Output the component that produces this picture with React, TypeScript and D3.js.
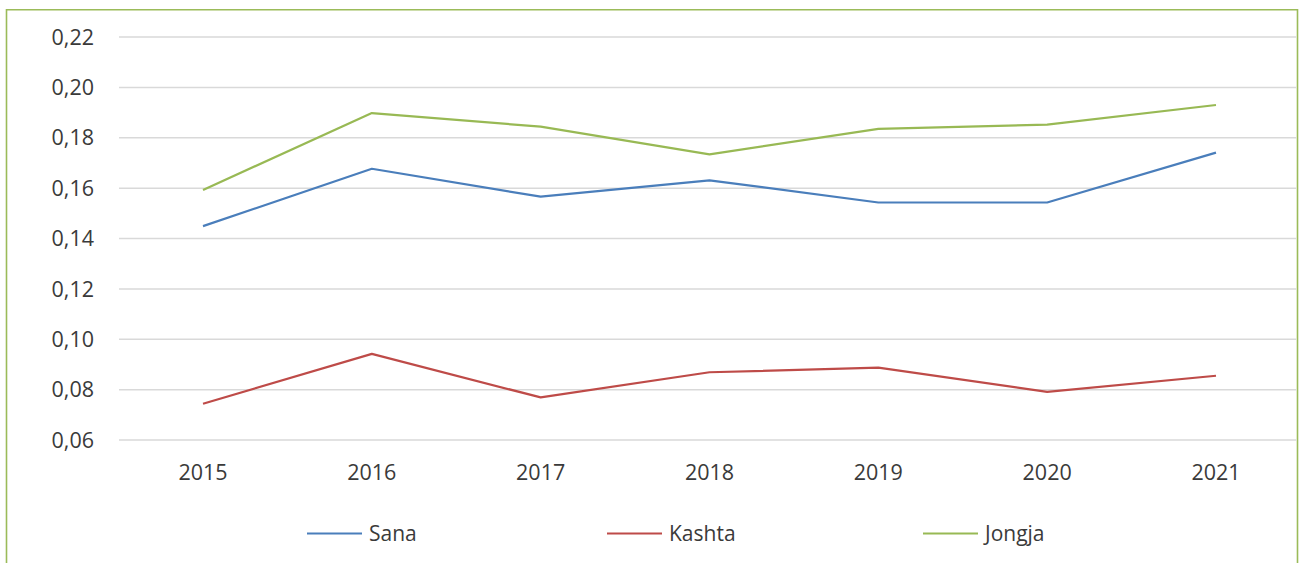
import React from 'react'
import * as d3 from 'd3'

const years = ['2015', '2016', '2017', '2018', '2019', '2020', '2021']
const sana = [0.1449, 0.1677, 0.1566, 0.1631, 0.1543, 0.1543, 0.1741]
const kashta = [0.0744, 0.0942, 0.0769, 0.0869, 0.0887, 0.0791, 0.0855]
const jongja = [0.1593, 0.1898, 0.1844, 0.1734, 0.1835, 0.1852, 0.193]
const yTicks = [0.06, 0.08, 0.1, 0.12, 0.14, 0.16, 0.18, 0.2, 0.22]

const seriesNames = ['Sana', 'Kashta', 'Jongja']
const seriesColors = ['#4a7ebb', '#be4b48', '#98b954']

const width = 1299
const height = 563

const App = () => {
    const x = d3.scaleBand<string>()
        .domain(years)
        .range([118.6, 1300.4])

    const y = d3.scaleLinear()
        .domain([0.06, 0.22])
        .range([440, 37])

    const line = d3.line<number>()
        .x((d, i) => x(years[i])! + x.bandwidth() / 2)
        .y(d => y(d))

    const allSeries = [sana, kashta, jongja]
    const fmt = (v: number) => d3.format('.2f')(v).replace('.', ',')

    const legendX = [307, 607, 923]

    return (
        <svg width={width} height={height}
            style={{ position: 'absolute', left: 0, top: 0, background: '#fff' }}
            fontFamily="'Open Sans', sans-serif">
            <rect x={0} y={0} width={width} height={height} fill="#fff" />
            {/* chart frame, bottom cropped */}
            <path d={`M6.5,${height + 2} V9.8 H1297.5 V${height + 2}`}
                fill="none" stroke="#9bbb59" strokeWidth={1.6} />

            <g>
                {yTicks.map(t => (
                    <g key={t}>
                        <line x1={119} x2={1296.5} y1={y(t)} y2={y(t)}
                            stroke="#d9d9d9" strokeWidth={1.5} />
                        <text x={94} y={y(t)} dy="0.36em" textAnchor="end"
                            fontSize={21.5} fill="#3a3a3a">{fmt(t)}</text>
                    </g>
                ))}
            </g>

            <g>
                {years.map(yr => (
                    <text key={yr} x={x(yr)! + x.bandwidth() / 2} y={472}
                        dy="0.36em" textAnchor="middle" fontSize={21.5} fill="#3a3a3a">{yr}</text>
                ))}
            </g>

            <g fill="none" strokeWidth={2.2} strokeLinejoin="round">
                {allSeries.map((s, i) => (
                    <path key={seriesNames[i]} d={line(s) ?? ''} stroke={seriesColors[i]} />
                ))}
            </g>

            <g>
                {seriesNames.map((n, i) => (
                    <g key={n} transform={`translate(${legendX[i]},533.5)`}>
                        <line x1={0} x2={55} y1={0} y2={0} stroke={seriesColors[i]} strokeWidth={2.2} />
                        <text x={62} y={0} dy="0.36em" fontSize={21} fill="#3a3a3a">{n}</text>
                    </g>
                ))}
            </g>
        </svg>
    )
}

export default App
